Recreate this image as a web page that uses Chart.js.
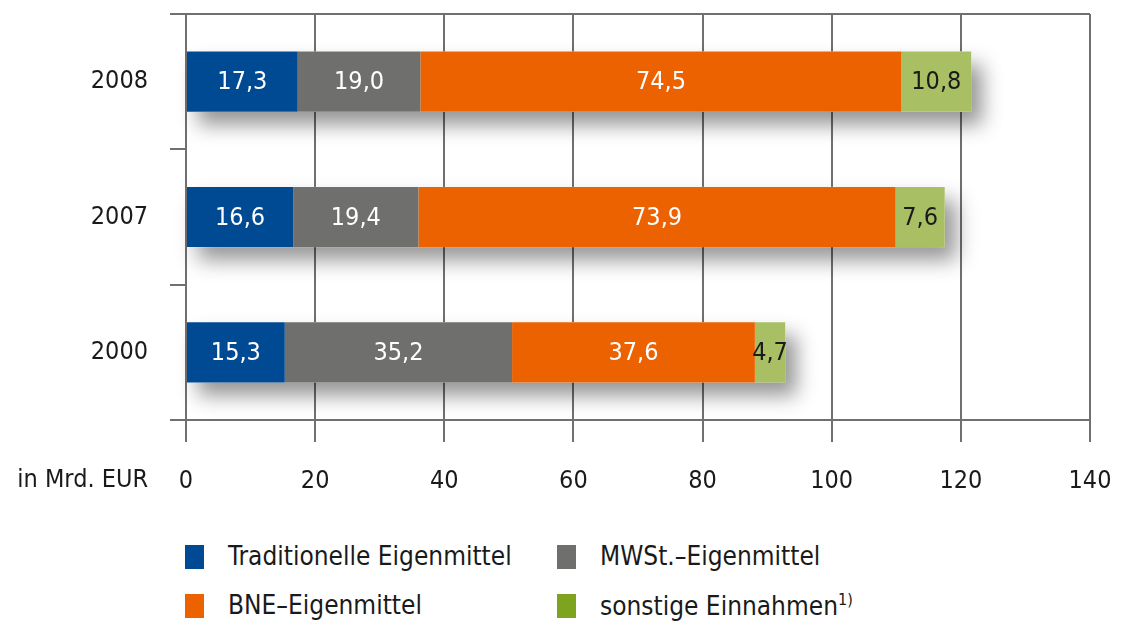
<!DOCTYPE html>
<html>
<head>
<meta charset="utf-8">
<script src="https://cdn.jsdelivr.net/npm/chart.js@4"></script>
<style>
  body { margin: 0; background: #fff; }
  #wrap { position: relative; width: 1123px; height: 625px; overflow: hidden; }
  #chart { position: absolute; left: 0; top: 0; }
  .leg { position: absolute; font: 26px "DejaVu Sans Condensed", "DejaVu Sans", sans-serif; color: #1a1a1a; white-space: nowrap; }
  .leg i { position: absolute; left: -43px; top: 4px; width: 19px; height: 24px; }
  .leg sup { font-size: 16px; }
</style>
</head>
<body>
<div id="wrap">
  <canvas id="chart" width="1123" height="530"></canvas>
  <div id="legend"></div>
</div>
<script>
let years = ["2008", "2007", "2000"];
let traditionelle = [17.3, 16.6, 15.3];
let mwst = [19.0, 19.4, 35.2];
let bne = [74.5, 73.9, 37.6];
let sonstige = [10.8, 7.6, 4.7];
let xTicks = [0, 20, 40, 60, 80, 100, 120, 140];
let seriesNames = ["Traditionelle Eigenmittel", "MWSt.–Eigenmittel", "BNE–Eigenmittel", "sonstige Einnahmen"];
let barColors = ["#004a93", "#6f6f6e", "#ec6200", "#a8bf64"];
let legendColors = ["#004a93", "#6f6f6e", "#ec6200", "#7ea31e"];
let labelColors = ["#fff", "#fff", "#fff", "#1a1a1a"];

const FONT = "'DejaVu Sans Condensed', 'DejaVu Sans', sans-serif";
const LINE = "#707070";

// grey drop shadow behind each stacked bar
const shadowPlugin = {
  id: "shadow",
  beforeDatasetsDraw(chart) {
    let ctx = chart.ctx;
    let first = chart.getDatasetMeta(0).data;
    let last = chart.getDatasetMeta(chart.data.datasets.length - 1).data;
    first.forEach((el, i) => {
      let left = el.base;
      let right = last[i].x;
      let h = el.height;
      ctx.save();
      ctx.shadowColor = "rgba(0,0,0,0.42)";
      ctx.shadowBlur = 20;
      ctx.shadowOffsetX = 11;
      ctx.shadowOffsetY = 13;
      ctx.fillStyle = "#fff";
      ctx.fillRect(left, el.y - h / 2, right - left, h);
      ctx.restore();
    });
  }
};

// values inside bars, top frame line, unit label
const extrasPlugin = {
  id: "extras",
  afterDatasetsDraw(chart) {
    let ctx = chart.ctx;
    ctx.save();
    ctx.font = "25px " + FONT;
    ctx.textAlign = "center";
    ctx.textBaseline = "middle";
    chart.data.datasets.forEach((ds, d) => {
      chart.getDatasetMeta(d).data.forEach((el, i) => {
        let cx = (el.base + el.x) / 2;
        ctx.fillStyle = labelColors[d];
        ctx.fillText(ds.data[i].toFixed(1).replace(".", ","), cx, el.y + 1);
      });
    });
    ctx.restore();
  },
  afterDraw(chart) {
    let ctx = chart.ctx;
    let a = chart.chartArea;
    ctx.save();
    ctx.strokeStyle = LINE;
    ctx.lineWidth = 2;
    ctx.beginPath();
    ctx.moveTo(170, a.top);
    ctx.lineTo(a.right, a.top);
    ctx.stroke();
    ctx.font = "25px " + FONT;
    ctx.fillStyle = "#1a1a1a";
    ctx.textAlign = "right";
    ctx.textBaseline = "middle";
    ctx.fillText("in Mrd. EUR", 148, 480);
    ctx.restore();
  }
};

let datasets = [traditionelle, mwst, bne, sonstige].map((vals, i) => ({
  label: seriesNames[i],
  data: vals,
  backgroundColor: barColors[i],
  borderWidth: 0,
  barPercentage: 0.445,
  categoryPercentage: 1
}));

new Chart(document.getElementById("chart"), {
  type: "bar",
  data: { labels: years, datasets: datasets },
  options: {
    indexAxis: "y",
    responsive: false,
    animation: false,
    layout: { padding: { top: 14, right: 33, left: 0, bottom: 0 } },
    plugins: { legend: { display: false }, tooltip: { enabled: false } },
    scales: {
      x: {
        stacked: true,
        min: 0, max: 140,
        afterBuildTicks: s => { s.ticks = xTicks.map(v => ({ value: v })); },
        afterFit: s => { s.height = 110; s.paddingLeft = 0; s.paddingRight = 0; },
        grid: { color: LINE, lineWidth: 2, tickLength: 22, drawTicks: true },
        border: { display: true, color: LINE, width: 2 },
        ticks: { color: "#1a1a1a", font: { size: 25, family: FONT }, padding: 24 }
      },
      y: {
        stacked: true,
        afterFit: s => { s.width = 186; s.paddingTop = 0; s.paddingBottom = 0; },
        grid: { drawOnChartArea: false, color: LINE, lineWidth: 2, tickLength: 16, offset: true },
        border: { display: true, color: LINE, width: 2 },
        ticks: { color: "#1a1a1a", font: { size: 25, family: FONT }, padding: 22 }
      }
    }
  },
  plugins: [shadowPlugin, extrasPlugin]
});

// legend: two columns, two rows
let legendPos = [[228, 541], [600, 541], [228, 590], [600, 590]];
let html = "";
seriesNames.forEach((name, i) => {
  let txt = i === 3 ? name + "<sup>1)</sup>" : name;
  html += `<div class="leg" style="left:${legendPos[i][0]}px;top:${legendPos[i][1]}px"><i style="background:${legendColors[i]}"></i>${txt}</div>`;
});
document.getElementById("legend").innerHTML = html;
</script>
</body>
</html>
